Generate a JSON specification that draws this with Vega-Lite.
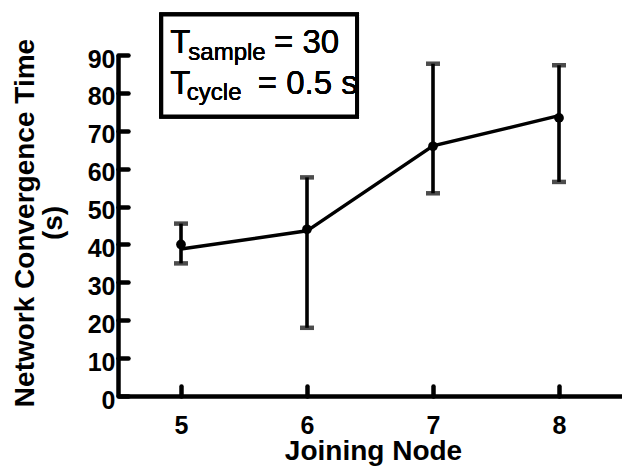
{
  "$schema": "https://vega.github.io/schema/vega-lite/v6.json",
  "width": 504,
  "height": 341,
  "autosize": {"type": "none"},
  "padding": {"left": 118, "top": 55, "right": 0, "bottom": 72},
  "background": "white",
  "data": {
    "values": [
      {"node": 5, "mean": 40.0, "line": 38.8, "lo": 35.0, "hi": 45.5},
      {"node": 6, "mean": 44.0, "line": 43.6, "lo": 18.0, "hi": 57.7},
      {"node": 7, "mean": 65.9, "line": 66.0, "lo": 53.5, "hi": 87.7},
      {"node": 8, "mean": 73.4, "line": 74.0, "lo": 56.5, "hi": 87.3}
    ]
  },
  "layer": [
    {
      "mark": {"type": "errorbar", "color": "black", "thickness": 3.6, "ticks": {"size": 14, "thickness": 4.5, "color": "black"}},
      "encoding": {
        "x": {"field": "node", "type": "quantitative", "scale": {"domain": [4.5, 8.435]}, "axis": {"values": [5, 6, 7, 8], "format": "d"}, "title": "Joining Node"},
        "y": {"field": "lo", "type": "quantitative", "scale": {"domain": [0, 90]}, "axis": {"values": [0, 10, 20, 30, 40, 50, 60, 70, 80, 90]}, "title": ["Network Convergence Time", "(s)"]},
        "y2": {"field": "hi"}
      }
    },
    {
      "mark": {"type": "line", "color": "black", "strokeWidth": 3.4},
      "encoding": {
        "x": {"field": "node", "type": "quantitative", "axis": {"values": [5, 6, 7, 8], "format": "d"}, "title": "Joining Node"},
        "y": {"field": "line", "type": "quantitative", "axis": {"values": [0, 10, 20, 30, 40, 50, 60, 70, 80, 90]}, "title": ["Network Convergence Time", "(s)"]}
      }
    },
    {
      "mark": {"type": "point", "filled": true, "color": "black", "size": 95, "opacity": 1},
      "encoding": {
        "x": {"field": "node", "type": "quantitative", "axis": {"values": [5, 6, 7, 8], "format": "d"}, "title": "Joining Node"},
        "y": {"field": "mean", "type": "quantitative", "axis": {"values": [0, 10, 20, 30, 40, 50, 60, 70, 80, 90]}, "title": ["Network Convergence Time", "(s)"]}
      }
    },
    {
      "mark": {"type": "rect", "fill": "white", "stroke": "black", "strokeWidth": 4},
      "encoding": {
        "x": {"datum": 4.8435, "type": "quantitative", "axis": {"values": [5, 6, 7, 8], "format": "d"}, "title": "Joining Node"},
        "x2": {"datum": 6.397},
        "y": {"datum": 100.7, "type": "quantitative", "axis": {"values": [0, 10, 20, 30, 40, 50, 60, 70, 80, 90]}, "title": ["Network Convergence Time", "(s)"]},
        "y2": {"datum": 73.8}
      }
    },
    {
      "mark": {"type": "text", "align": "left", "baseline": "alphabetic", "font": "Liberation Sans", "fontSize": 33, "color": "black"},
      "encoding": {
        "x": {"datum": 4.914, "type": "quantitative", "axis": {"values": [5, 6, 7, 8], "format": "d"}, "title": "Joining Node"},
        "y": {"datum": 90.4, "type": "quantitative", "axis": {"values": [0, 10, 20, 30, 40, 50, 60, 70, 80, 90]}, "title": ["Network Convergence Time", "(s)"]},
        "text": {"value": "T"}
      }
    },
    {
      "mark": {"type": "text", "align": "left", "baseline": "alphabetic", "font": "Liberation Sans", "fontSize": 24, "color": "black"},
      "encoding": {
        "x": {"datum": 5.058, "type": "quantitative", "axis": {"values": [5, 6, 7, 8], "format": "d"}, "title": "Joining Node"},
        "y": {"datum": 88.74, "type": "quantitative", "axis": {"values": [0, 10, 20, 30, 40, 50, 60, 70, 80, 90]}, "title": ["Network Convergence Time", "(s)"]},
        "text": {"value": "sample"}
      }
    },
    {
      "mark": {"type": "text", "align": "left", "baseline": "alphabetic", "font": "Liberation Sans", "fontSize": 33, "color": "black"},
      "encoding": {
        "x": {"datum": 5.738, "type": "quantitative", "axis": {"values": [5, 6, 7, 8], "format": "d"}, "title": "Joining Node"},
        "y": {"datum": 90.4, "type": "quantitative", "axis": {"values": [0, 10, 20, 30, 40, 50, 60, 70, 80, 90]}, "title": ["Network Convergence Time", "(s)"]},
        "text": {"value": "= 30"}
      }
    },
    {
      "mark": {"type": "text", "align": "left", "baseline": "alphabetic", "font": "Liberation Sans", "fontSize": 33, "color": "black"},
      "encoding": {
        "x": {"datum": 4.914, "type": "quantitative", "axis": {"values": [5, 6, 7, 8], "format": "d"}, "title": "Joining Node"},
        "y": {"datum": 79.83, "type": "quantitative", "axis": {"values": [0, 10, 20, 30, 40, 50, 60, 70, 80, 90]}, "title": ["Network Convergence Time", "(s)"]},
        "text": {"value": "T"}
      }
    },
    {
      "mark": {"type": "text", "align": "left", "baseline": "alphabetic", "font": "Liberation Sans", "fontSize": 24, "color": "black"},
      "encoding": {
        "x": {"datum": 5.0465, "type": "quantitative", "axis": {"values": [5, 6, 7, 8], "format": "d"}, "title": "Joining Node"},
        "y": {"datum": 78.06, "type": "quantitative", "axis": {"values": [0, 10, 20, 30, 40, 50, 60, 70, 80, 90]}, "title": ["Network Convergence Time", "(s)"]},
        "text": {"value": "cycle"}
      }
    },
    {
      "mark": {"type": "text", "align": "left", "baseline": "alphabetic", "font": "Liberation Sans", "fontSize": 33, "color": "black"},
      "encoding": {
        "x": {"datum": 5.609, "type": "quantitative", "axis": {"values": [5, 6, 7, 8], "format": "d"}, "title": "Joining Node"},
        "y": {"datum": 79.83, "type": "quantitative", "axis": {"values": [0, 10, 20, 30, 40, 50, 60, 70, 80, 90]}, "title": ["Network Convergence Time", "(s)"]},
        "text": {"value": "= 0.5 s"}
      }
    }
  ],
  "config": {
    "view": {"stroke": null},
    "font": "Liberation Sans",
    "axis": {
      "grid": false,
      "ticks": true,
      "domainColor": "black",
      "domainWidth": 4.5,
      "tickColor": "black",
      "tickWidth": 4.5,
      "tickSize": -10,
      "tickCap": "round",
      "labelFont": "Liberation Sans",
      "labelFontSize": 25,
      "labelFontWeight": "bold",
      "labelColor": "black",
      "labelFlush": false,
      "labelOverlap": false,
      "labelBound": false,
      "titleFont": "Liberation Sans",
      "titleFontSize": 28,
      "titleFontWeight": "bold",
      "titleColor": "black"
    },
    "axisX": {
      "labelPadding": 47,
      "labelBaseline": "alphabetic",
      "titleBaseline": "alphabetic",
      "titleX": 255,
      "titleY": 63.3
    },
    "axisY": {
      "labelPadding": 13,
      "labelBaseline": "middle",
      "labelOffset": 4,
      "titleX": -84.7,
      "titleY": 167.5,
      "titleAngle": -90,
      "titleAlign": "center",
      "titleBaseline": "alphabetic",
      "titleLineHeight": 28.4
    }
  }
}
